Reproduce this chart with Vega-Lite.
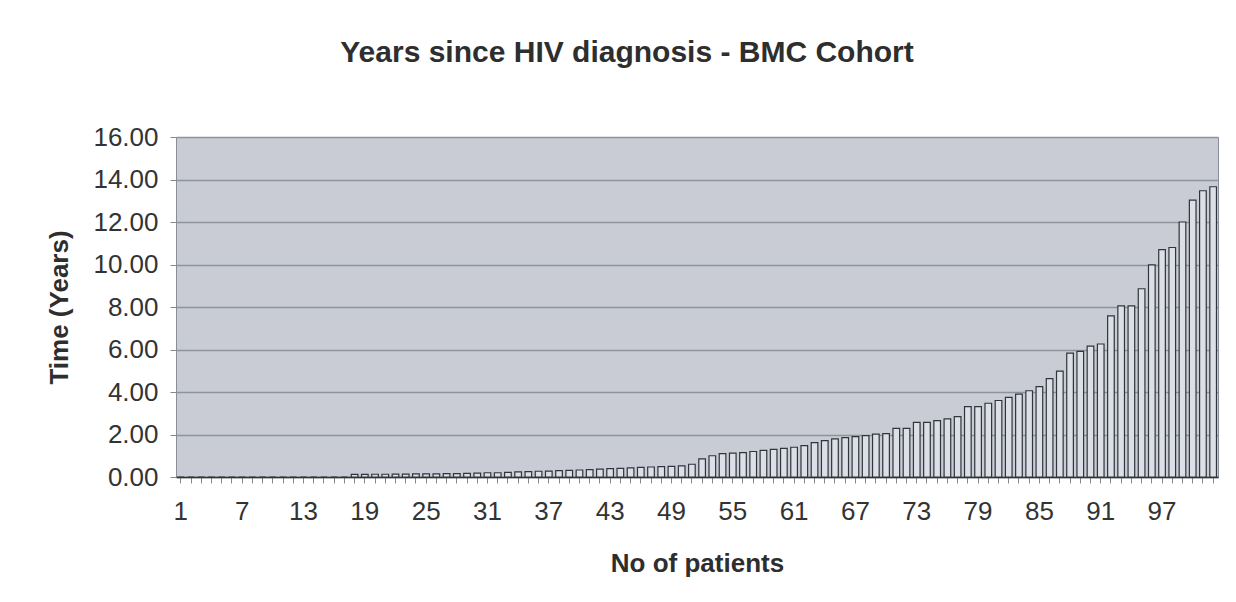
{
  "$schema": "https://vega.github.io/schema/vega-lite/v6.json",
  "autosize": "none",
  "width": 1042,
  "height": 340,
  "padding": {"left": 176, "top": 137, "right": 18, "bottom": 125},
  "background": "#ffffff",
  "title": {
    "text": "Years since HIV diagnosis - BMC Cohort",
    "font": "Liberation Sans",
    "fontSize": 30,
    "fontWeight": "bold",
    "color": "#2e2e2e",
    "anchor": "middle",
    "dx": -70,
    "offset": 56
  },
  "config": {
    "view": {"fill": "#c9ccd5", "stroke": "#8a8e98", "strokeWidth": 1},
    "axis": {
      "labelFont": "Liberation Sans",
      "titleFont": "Liberation Sans",
      "labelColor": "#333333",
      "titleColor": "#2e2e2e",
      "labelFontSize": 26,
      "titleFontSize": 26,
      "titleFontWeight": "bold"
    }
  },
  "data": {
    "values": [
      {"patient": 1, "years": 0}, {"patient": 2, "years": 0}, {"patient": 3, "years": 0},
      {"patient": 4, "years": 0}, {"patient": 5, "years": 0}, {"patient": 6, "years": 0},
      {"patient": 7, "years": 0}, {"patient": 8, "years": 0}, {"patient": 9, "years": 0},
      {"patient": 10, "years": 0}, {"patient": 11, "years": 0}, {"patient": 12, "years": 0},
      {"patient": 13, "years": 0}, {"patient": 14, "years": 0}, {"patient": 15, "years": 0},
      {"patient": 16, "years": 0}, {"patient": 17, "years": 0},
      {"patient": 18, "years": 0.12}, {"patient": 19, "years": 0.12}, {"patient": 20, "years": 0.13},
      {"patient": 21, "years": 0.13}, {"patient": 22, "years": 0.14}, {"patient": 23, "years": 0.14},
      {"patient": 24, "years": 0.15}, {"patient": 25, "years": 0.15}, {"patient": 26, "years": 0.15},
      {"patient": 27, "years": 0.16}, {"patient": 28, "years": 0.16}, {"patient": 29, "years": 0.17},
      {"patient": 30, "years": 0.18}, {"patient": 31, "years": 0.2},
      {"patient": 32, "years": 0.2}, {"patient": 33, "years": 0.22}, {"patient": 34, "years": 0.24},
      {"patient": 35, "years": 0.25}, {"patient": 36, "years": 0.27}, {"patient": 37, "years": 0.28},
      {"patient": 38, "years": 0.3}, {"patient": 39, "years": 0.31}, {"patient": 40, "years": 0.33},
      {"patient": 41, "years": 0.35}, {"patient": 42, "years": 0.37}, {"patient": 43, "years": 0.39},
      {"patient": 44, "years": 0.41}, {"patient": 45, "years": 0.43}, {"patient": 46, "years": 0.45},
      {"patient": 47, "years": 0.47}, {"patient": 48, "years": 0.49}, {"patient": 49, "years": 0.5},
      {"patient": 50, "years": 0.52}, {"patient": 51, "years": 0.6}, {"patient": 52, "years": 0.85},
      {"patient": 53, "years": 1.0}, {"patient": 54, "years": 1.1}, {"patient": 55, "years": 1.12},
      {"patient": 56, "years": 1.15}, {"patient": 57, "years": 1.2}, {"patient": 58, "years": 1.25},
      {"patient": 59, "years": 1.3}, {"patient": 60, "years": 1.35}, {"patient": 61, "years": 1.4},
      {"patient": 62, "years": 1.48},
      {"patient": 63, "years": 1.62}, {"patient": 64, "years": 1.71}, {"patient": 65, "years": 1.79},
      {"patient": 66, "years": 1.85}, {"patient": 67, "years": 1.9}, {"patient": 68, "years": 1.95},
      {"patient": 69, "years": 2.02}, {"patient": 70, "years": 2.04},
      {"patient": 71, "years": 2.29}, {"patient": 72, "years": 2.29}, {"patient": 73, "years": 2.57},
      {"patient": 74, "years": 2.57}, {"patient": 75, "years": 2.65}, {"patient": 76, "years": 2.74},
      {"patient": 77, "years": 2.84}, {"patient": 78, "years": 3.31}, {"patient": 79, "years": 3.31},
      {"patient": 80, "years": 3.47}, {"patient": 81, "years": 3.6}, {"patient": 82, "years": 3.75},
      {"patient": 83, "years": 3.9}, {"patient": 84, "years": 4.06}, {"patient": 85, "years": 4.25},
      {"patient": 86, "years": 4.63}, {"patient": 87, "years": 4.98}, {"patient": 88, "years": 5.83},
      {"patient": 89, "years": 5.91}, {"patient": 90, "years": 6.16}, {"patient": 91, "years": 6.26},
      {"patient": 92, "years": 7.58}, {"patient": 93, "years": 8.05}, {"patient": 94, "years": 8.05},
      {"patient": 95, "years": 8.86}, {"patient": 96, "years": 9.98}, {"patient": 97, "years": 10.7},
      {"patient": 98, "years": 10.8}, {"patient": 99, "years": 12.0}, {"patient": 100, "years": 13.03},
      {"patient": 101, "years": 13.47}, {"patient": 102, "years": 13.66}
    ]
  },
  "mark": {"type": "bar", "fill": "#dcdfe6", "stroke": "#30343c", "strokeWidth": 1.2},
  "encoding": {
    "x": {
      "field": "patient",
      "type": "ordinal",
      "sort": "ascending",
      "scale": {"paddingInner": 0.35, "paddingOuter": 0.15},
      "axis": {
        "title": "No of patients",
        "labelAngle": 0,
        "labelExpr": "(datum.value - 1) % 6 == 0 ? datum.label : ''",
        "domainColor": "#333333",
        "domainWidth": 1.5,
        "tickColor": "#888888",
        "tickSize": 6,
        "labelPadding": 15,
        "titlePadding": 26,
        "labelOverlap": false
      }
    },
    "y": {
      "field": "years",
      "type": "quantitative",
      "scale": {"domain": [0, 16], "nice": false},
      "axis": {
        "title": "Time (Years)",
        "values": [0, 2, 4, 6, 8, 10, 12, 14, 16],
        "format": ".2f",
        "grid": true,
        "gridColor": "#8e929c",
        "gridWidth": 1.5,
        "domain": false,
        "tickColor": "#888888",
        "tickSize": 6,
        "labelPadding": 12,
        "titlePadding": 20
      }
    }
  }
}
